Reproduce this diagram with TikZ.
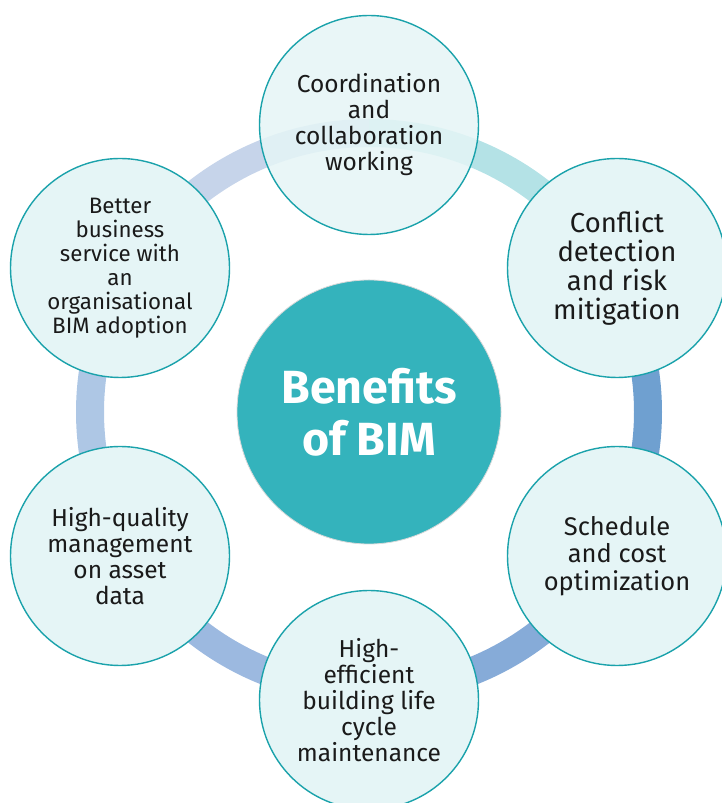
\documentclass[tikz,border=0pt]{standalone}
\usepackage{fontspec}
\setmainfont{Fira Sans}
\definecolor{tealline}{HTML}{1AA2AB}
\definecolor{bubble}{HTML}{E5F5F6}
\definecolor{hub}{HTML}{34B3BC}
\definecolor{segA}{HTML}{C6D4EA}
\definecolor{segB}{HTML}{B4E2E6}
\definecolor{segC}{HTML}{6FA0D0}
\definecolor{segD}{HTML}{86ABD8}
\definecolor{segE}{HTML}{9CB9E0}
\definecolor{segF}{HTML}{AEC7E5}
\definecolor{textdark}{HTML}{1A1A1A}
\tikzset{
  ringarc/.style={line width=28pt},
  bubblenode/.style={circle, draw=tealline, line width=1.4pt, fill=bubble,
    minimum size=219pt, inner sep=0pt, align=center, text=textdark,
    font=\fontsize{24.5}{26}\selectfont},
  hubnode/.style={circle, draw=black!15, line width=0.8pt, fill=hub,
    minimum size=264pt, inner sep=0pt, align=center, text=white,
    font=\bfseries\fontsize{46.5}{52}\selectfont}
}
\begin{document}
\begin{tikzpicture}[x=1pt,y=1pt]
\useasboundingbox (0,0) rectangle (721,803);
\coordinate (C) at (369,391);
\def\R{279}
\draw[ringarc, draw=segA] ([shift={(90:\R)}]C) arc[start angle=90, end angle=150, radius=\R];
\draw[ringarc, draw=segB] ([shift={(30:\R)}]C) arc[start angle=30, end angle=90, radius=\R];
\draw[ringarc, draw=segC] ([shift={(-30:\R)}]C) arc[start angle=-30, end angle=30, radius=\R];
\draw[ringarc, draw=segD] ([shift={(-90:\R)}]C) arc[start angle=-90, end angle=-30, radius=\R];
\draw[ringarc, draw=segE] ([shift={(-150:\R)}]C) arc[start angle=-150, end angle=-90, radius=\R];
\draw[ringarc, draw=segF] ([shift={(150:\R)}]C) arc[start angle=150, end angle=210, radius=\R];

\node[hubnode] (hub) at (C) {Benefits\\of BIM};

\node[bubblenode, fill opacity=0.85, text opacity=1] (coord) at (369,678)
  {Coordination\\and\\collaboration\\working};
\node[bubblenode, font=\fontsize{27.5}{29}\selectfont] (conflict) at (617,535)
  {Conflict\\detection\\and risk\\mitigation};
\node[bubblenode, font=\fontsize{25.5}{27.5}\selectfont] (schedule) at (617,247)
  {Schedule\\and cost\\optimization};
\node[bubblenode] (lifecycle) at (369,103)
  {High-\\efficient\\building life\\cycle\\maintenance};
\node[bubblenode] (asset) at (120,247)
  {High-quality\\management\\on asset\\data};
\node[bubblenode, font=\fontsize{22.3}{24}\selectfont] (business) at (120,535)
  {Better\\business\\service with\\an\\organisational\\BIM adoption};
\end{tikzpicture}
\end{document}
